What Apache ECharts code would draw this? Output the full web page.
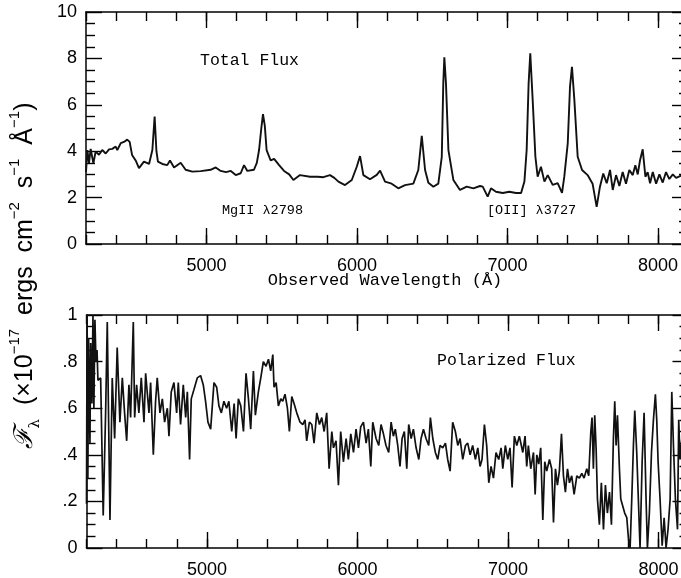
<!DOCTYPE html>
<html><head><meta charset="utf-8">
<script src="https://cdn.jsdelivr.net/npm/echarts@6/dist/echarts.min.js"></script>
<style>html,body{margin:0;padding:0;background:#fff}#c{width:681px;height:578px}</style>
</head><body><div id="c"></div><script>
// ---- data ----
const totalWave = [4200,4209,4220,4231,4249,4264,4286,4308,4331,4353,4375,4397,4408,4431,4452,4474,4490,4506,4530,4552,4585,4619,4641,4656,4668,4678,4707,4740,4758,4785,4829,4862,4906,4962,5028,5062,5095,5130,5162,5195,5228,5250,5272,5316,5335,5350,5365,5376,5388,5400,5427,5450,5483,5516,5550,5578,5622,5689,5740,5777,5821,5850,5877,5921,5966,5999,6021,6043,6087,6132,6154,6187,6231,6275,6320,6375,6408,6431,6453,6475,6508,6541,6564,6574,6581,6592,6608,6641,6685,6730,6774,6818,6836,6869,6891,6924,6969,7013,7057,7091,7113,7128,7141,7152,7168,7186,7201,7223,7246,7268,7301,7334,7363,7378,7401,7416,7429,7445,7467,7496,7533,7566,7593,7615,7637,7660,7682,7700,7722,7744,7766,7788,7810,7833,7850,7866,7881,7899,7917,7932,7948,7966,7988,8010,8032,8054,8076,8099,8121,8154,8200];
const totalFlux = [3.1,4.05,3.5,4.1,3.48,3.98,3.85,4.05,3.9,4.08,4.1,4.2,4.05,4.35,4.4,4.5,4.4,3.84,3.6,3.27,3.55,3.45,4.05,5.49,4.0,3.55,3.45,3.4,3.6,3.3,3.5,3.2,3.12,3.14,3.2,3.3,3.15,3.1,3.15,2.97,3.05,3.4,3.15,3.2,3.5,4.05,5.0,5.6,5.1,4.05,3.6,3.67,3.4,3.15,3.0,2.76,2.97,2.9,2.9,2.88,2.97,2.85,2.69,2.54,2.76,3.33,3.79,2.97,2.79,2.98,3.16,2.69,2.6,2.4,2.54,2.6,3.19,4.66,3.19,2.64,2.47,2.6,3.76,6.93,8.05,6.9,4.05,2.76,2.33,2.47,2.4,2.5,2.47,2.04,2.4,2.25,2.2,2.25,2.2,2.2,2.69,4.05,6.93,8.22,6.2,3.76,2.9,3.33,2.69,2.97,2.55,2.62,2.2,2.9,4.34,6.78,7.64,6.2,3.76,3.19,2.97,2.6,1.6,2.47,3.04,2.62,3.19,2.33,2.97,2.5,3.1,2.6,3.19,2.97,3.4,3.0,3.6,4.08,2.9,3.1,2.62,3.1,2.6,3.0,2.65,3.1,2.8,3.0,2.85,2.95,2.9];
const polWave = [4200,4204,4209,4214,4223,4228,4236,4243,4249,4256,4263,4270,4276,4294,4311,4327,4338,4356,4371,4387,4404,4422,4438,4453,4467,4482,4493,4511,4520,4533,4548,4564,4582,4593,4615,4626,4644,4659,4670,4688,4704,4719,4737,4748,4763,4781,4799,4810,4825,4843,4859,4870,4885,4896,4914,4936,4958,4976,4991,5007,5025,5047,5065,5080,5096,5113,5131,5146,5165,5181,5194,5209,5225,5243,5260,5276,5291,5309,5322,5342,5358,5375,5393,5409,5424,5438,5446,5460,5475,5491,5504,5519,5535,5548,5564,5579,5597,5619,5637,5652,5663,5681,5697,5712,5730,5748,5763,5779,5796,5812,5830,5841,5858,5874,5889,5907,5925,5940,5956,5974,5991,6007,6022,6040,6058,6073,6089,6102,6124,6142,6157,6173,6190,6208,6224,6239,6252,6268,6283,6297,6312,6328,6341,6357,6372,6390,6408,6423,6439,6456,6474,6485,6501,6518,6534,6549,6567,6585,6600,6616,6633,6651,6667,6682,6700,6718,6733,6749,6766,6784,6800,6815,6828,6844,6859,6873,6888,6904,6921,6939,6955,6966,6983,6999,7014,7028,7043,7059,7076,7099,7114,7125,7136,7152,7170,7181,7192,7205,7218,7232,7245,7258,7276,7291,7303,7316,7329,7342,7356,7369,7382,7396,7409,7424,7440,7458,7475,7491,7506,7524,7537,7551,7559,7568,7577,7586,7595,7608,7621,7635,7648,7661,7675,7688,7701,7710,7719,7728,7741,7750,7763,7776,7790,7801,7812,7823,7834,7843,7856,7870,7878,7892,7905,7918,7927,7940,7954,7967,7980,7989,7998,8011,8025,8038,8051,8064,8078,8089,8100,8113,8127,8135,8144,8160,8200];
const polFlux = [0.19,1.0,0.3,0.9,0.45,0.88,0.62,1.0,0.6,0.98,0.8,0.85,0.72,0.73,0.14,0.58,0.97,0.12,0.73,0.47,0.86,0.54,0.73,0.58,0.46,0.7,0.56,0.97,0.56,0.7,0.58,0.73,0.54,0.75,0.58,0.71,0.4,0.63,0.73,0.58,0.64,0.54,0.6,0.48,0.67,0.71,0.58,0.71,0.53,0.7,0.56,0.67,0.38,0.64,0.68,0.73,0.74,0.7,0.63,0.54,0.51,0.71,0.69,0.61,0.58,0.63,0.6,0.63,0.5,0.62,0.47,0.64,0.61,0.5,0.75,0.64,0.51,0.76,0.57,0.67,0.73,0.8,0.78,0.81,0.76,0.83,0.69,0.71,0.61,0.64,0.63,0.66,0.6,0.5,0.65,0.62,0.58,0.54,0.53,0.55,0.46,0.54,0.53,0.45,0.58,0.53,0.56,0.5,0.58,0.34,0.5,0.43,0.46,0.27,0.5,0.37,0.47,0.38,0.49,0.41,0.51,0.43,0.52,0.54,0.45,0.51,0.35,0.54,0.47,0.44,0.53,0.49,0.44,0.41,0.54,0.48,0.51,0.44,0.35,0.47,0.5,0.34,0.53,0.47,0.51,0.43,0.38,0.47,0.51,0.47,0.44,0.56,0.47,0.41,0.38,0.44,0.43,0.45,0.38,0.33,0.54,0.5,0.44,0.47,0.38,0.44,0.45,0.4,0.44,0.38,0.43,0.35,0.38,0.53,0.44,0.28,0.35,0.3,0.41,0.38,0.43,0.34,0.44,0.38,0.43,0.26,0.48,0.44,0.48,0.41,0.48,0.35,0.44,0.34,0.41,0.23,0.4,0.36,0.43,0.12,0.37,0.33,0.38,0.34,0.11,0.34,0.27,0.33,0.49,0.31,0.24,0.34,0.28,0.31,0.23,0.31,0.3,0.32,0.3,0.34,0.31,0.5,0.56,0.34,0.57,0.43,0.21,0.1,0.28,0.08,0.27,0.15,0.24,0.1,0.47,0.63,0.44,0.57,0.34,0.21,0.18,0.15,0.13,0.04,0.0,0.21,0.44,0.59,0.41,0.15,0.0,0.37,0.58,0.21,0.0,0.15,0.41,0.55,0.66,0.55,0.37,0.21,0.01,0.13,0.0,0.08,0.21,0.67,0.44,0.21,0.08,0.55,0.38,0.5,0.45];
const xRange = [4200, 8200];       // plotted wavelength range
const xMajorStart = 5000;          // first labelled tick
const xMajorStep = 1000, xMinorStep = 200;
const yTopLabels = ['0','2','4','6','8','10'];
const yBotLabels = ['0','.2','.4','.6','.8','1'];

// ---- chart ----
const chart = echarts.init(document.getElementById('c'), null, {renderer:'canvas'});
const LINE = {color:'#000', width:1.5};
const TICK = {color:'#000', width:1.4};
const PXW = 602 / (xRange[1] - xRange[0]);   // px per Angstrom
// main axes: axis line + minor ticks
function xMinorAx(grid, pos) {
  return {type:'value', gridIndex:grid, position:pos, min:xRange[0], max:xRange[1], interval:xMinorStep,
    axisLine:{show:true, onZero:false, lineStyle:LINE},
    axisTick:{show:true, inside:true, length:9, lineStyle:TICK},
    axisLabel:{show:false}, splitLine:{show:false}};
}
// overlay axes (grid starting at first major value): major ticks + labels
function xMajorAx(grid, pos, withLabels) {
  return {type:'value', gridIndex:grid, position:pos, min:xMajorStart, max:xRange[1], interval:xMajorStep,
    axisLine:{show:false, onZero:false},
    axisTick:{show:true, inside:true, length:16, lineStyle:TICK},
    axisLabel: withLabels ? {show:true, margin:13, color:'#000', fontSize:18, fontFamily:'Liberation Sans',
      showMaxLabel:false, formatter: v => (v % xMajorStep === 0 ? String(v) : '')} : {show:false},
    splitLine:{show:false}};
}
function yAx(grid, pos, max, interval, labels) {
  return {type:'value', gridIndex:grid, position:pos, min:0, max:max, interval:interval,
    axisLine:{show:true, onZero:false, lineStyle:LINE},
    axisTick:{show:true, inside:true, length:16, lineStyle:TICK},
    minorTick:{show:true, splitNumber:4, length:9, lineStyle:TICK},
    axisLabel: labels ? {show:true, margin:9, color:'#000', fontSize:18, fontFamily:'Liberation Sans',
      formatter: v => labels[Math.round(v/interval)]} : {show:false},
    splitLine:{show:false}, minorSplitLine:{show:false}};
}
const off = (xMajorStart - xRange[0]) * PXW;
const G0 = {left:86, top:12, width:602, height:232, outerBoundsMode:'none', containLabel:false};
const G1 = {left:86.5, top:315, width:602, height:233, outerBoundsMode:'none', containLabel:false};
const G2 = {left:86 + off, top:12, width:602 - off, height:232, outerBoundsMode:'none', containLabel:false};
const G3 = {left:86.5 + off, top:315, width:602 - off, height:233, outerBoundsMode:'none', containLabel:false};
const option = {
  animation:false,
  backgroundColor:'#fff',
  grid:[G0, G1, G2, G3],
  xAxis:[
    xMinorAx(0,'bottom'), xMinorAx(0,'top'),
    xMinorAx(1,'bottom'), xMinorAx(1,'top'),
    xMajorAx(2,'bottom',true), xMajorAx(2,'top',false),
    xMajorAx(3,'bottom',true), xMajorAx(3,'top',false)
  ],
  yAxis:[
    yAx(0,'left',10,2,yTopLabels), yAx(0,'right',10,2,null),
    yAx(1,'left',1,0.2,yBotLabels), yAx(1,'right',1,0.2,null),
    {type:'value', gridIndex:2, min:0, max:10, show:false},
    {type:'value', gridIndex:3, min:0, max:1, show:false}
  ],
  series:[
    {type:'line', xAxisIndex:0, yAxisIndex:0, data: totalWave.map((w,i)=>[w,totalFlux[i]]),
     showSymbol:false, symbol:'none', clip:true, lineStyle:{color:'#111', width:1.9}},
    {type:'line', xAxisIndex:2, yAxisIndex:2, data: polWave.map((w,i)=>[w,polFlux[i]]),
     showSymbol:false, symbol:'none', clip:true, lineStyle:{color:'#111', width:1.7}}
  ],
  graphic:[
    {type:'text', x:200, y:52, style:{text:'Total Flux', fill:'#000', fontSize:16.5, fontFamily:'Liberation Mono'}},
    {type:'text', x:222, y:203, style:{text:'MgII λ2798', fill:'#000', fontSize:13.5, fontFamily:'Liberation Mono'}},
    {type:'text', x:487, y:203, style:{text:'[OII] λ3727', fill:'#000', fontSize:13.5, fontFamily:'Liberation Mono'}},
    {type:'text', x:437, y:352, style:{text:'Polarized Flux', fill:'#000', fontSize:16.5, fontFamily:'Liberation Mono'}},
    {type:'text', x:385, y:272, style:{text:'Observed Wavelength (Å)', fill:'#000', fontSize:17, fontFamily:'Liberation Mono', align:'center'}},
    {type:'text', x:25, y:276, rotation:Math.PI/2,
     style:{text:'{F|ℱ}{sub|λ}{n|  (×10}{sup|−17}{n|  ergs  cm}{sup|−2}{n|  s}{sup|−1}{n|  Å}{sup|−1}{n|)}',
       align:'center', verticalAlign:'middle', fill:'#000',
       rich:{
         n:{fontSize:25, fontFamily:'Liberation Sans', lineHeight:36, fill:'#000'},
         F:{fontSize:26, fontFamily:'DejaVu Serif', fontStyle:'italic', lineHeight:36, fill:'#000'},
         sub:{fontSize:15, fontFamily:'DejaVu Serif', verticalAlign:'bottom', fill:'#000'},
         sup:{fontSize:15, fontFamily:'Liberation Sans', verticalAlign:'top', fill:'#000'}
       }}}
  ]
};
chart.setOption(option);
</script></body></html>
